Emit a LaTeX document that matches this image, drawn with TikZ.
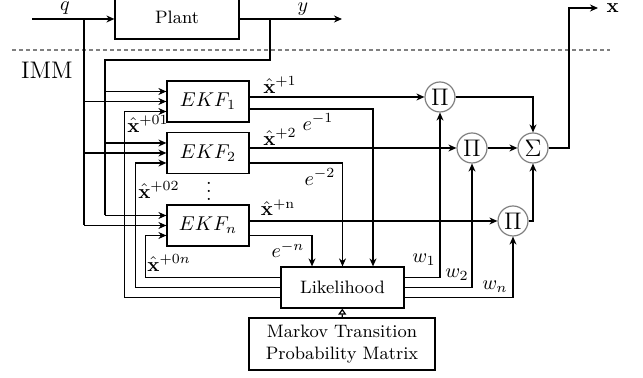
\documentclass[tikz,border=0pt]{standalone}
\usepackage{amsmath,amssymb}
\usepackage{tikz}
\usetikzlibrary{arrows.meta,positioning,calc}

\begin{document}
\begin{tikzpicture}[x=0.5pt,y=-0.5pt,>={Stealth[length=4pt,width=3.5pt]},line width=0.6pt,
  block/.style={draw,minimum width=41pt,minimum height=20.5pt,inner sep=0pt},
  op/.style={draw=gray,circle,minimum size=15pt,inner sep=0pt,font=\large},
  lbl/.style={inner sep=0pt}]
  \useasboundingbox (0,0) rectangle (643,378);

  % plant and its signals
  \node[block,minimum width=62pt,minimum height=22pt,font=\small] (plant) at (177,17) {Plant};
  \coordinate (qin) at (32,19);
  \coordinate (yout) at (342,19);
  \coordinate (qtap) at (84,19);
  \coordinate (ytap) at (270,19);
  \coordinate (ybus) at (105,60);
  \node[lbl] (q) at (65,8) {$q$};
  \node[lbl] (y) at (303,9) {$y$};

  \draw[gray,dash pattern=on 2pt off 1.5pt] (12,50) -- (610,50);
  \node[font=\large] (imm) at (47,70) {IMM};

  % filter bank
  \node[block] (ekf1) at (208,101.5) {$EKF_1$};
  \node[block] (ekf2) at (208,153) {$EKF_2$};
  \node (dots) at (209,185) {$\vdots$};
  \node[block] (ekfn) at (208,225.5) {$EKF_n$};
  \node[block,minimum width=61.5pt,font=\small] (lik) at (342.5,287.5) {Likelihood};
  \node[block,minimum width=93pt,minimum height=26pt,align=center,font=\small] (markov) at (342,344) {Markov Transition\\Probability Matrix};

  % mixing
  \node[op] (p1) at (440,97) {$\Pi$};
  \node[op] (p2) at (472,148) {$\Pi$};
  \node[op] (pn) at (513,221) {$\Pi$};
  \node[op] (sum) at (533,148) {$\Sigma$};
  \coordinate (xcol) at (569,8);
  \coordinate (xout) at (598,8);
  \node[lbl,right=4pt of xout] (x) {$\mathbf{x}$};

  \draw[->] (qin) -- (qin -| plant.west);
  \draw[->] (yout -| plant.east) -- (yout);
  \foreach \k in {1,2,n}{
    \coordinate (ekf\k-a) at ([yshift=5pt]ekf\k.west);
    \coordinate (ekf\k-c) at ([yshift=-5pt]ekf\k.west);
    \draw[->] (ybus |- ekf\k-a) -- (ekf\k-a);
    \draw[->] (qtap |- ekf\k.west) -- (ekf\k.west);
  }
  \draw (ytap) |- (ybus) -- (ybus |- ekfn-a);
  \draw (qtap) -- (qtap |- ekfn.west);

  % feedback of mixed estimates
  \draw[->] ([yshift=5pt]lik.west) -| ([xshift=-10.5pt]ekfn-c) -- (ekfn-c);
  \draw[->] (lik.west) -| ([xshift=-15.5pt]ekf2-c) -- (ekf2-c);
  \draw[->] ([yshift=-5pt]lik.west) -| ([xshift=-21pt]ekf1-c) -- (ekf1-c);
  \node[lbl] (xh01) at (148,124) {$\hat{\mathbf{x}}^{+01}$};
  \node[lbl] (xh02) at (159,190) {$\hat{\mathbf{x}}^{+02}$};
  \node[lbl] (xh0n) at (169,263) {$\hat{\mathbf{x}}^{+0n}$};

  % filter outputs
  \draw[->] (ekf1.east |- p1) -- (p1);
  \draw[->] (ekf2.east |- p2) -- (p2);
  \draw[->] (ekfn.east |- pn) -- (pn);
  \draw[->] ([yshift=-3.75pt]ekf1.east) -| ([xshift=15.25pt]lik.north);
  \draw[->] ([yshift=-5pt]ekf2.east) -| (lik.north);
  \draw[->] ([yshift=-5pt]ekfn.east) -| ([xshift=-15.25pt]lik.north);
  \node[lbl] (xh1) at (280,85) {$\hat{\mathbf{x}}^{+1}$};
  \node[lbl] (xh2) at (280,137) {$\hat{\mathbf{x}}^{+2}$};
  \node[lbl] (xhn) at (278,208) {$\hat{\mathbf{x}}^{+\mathrm{n}}$};
  \node[lbl] (e1) at (318,122) {$e^{-1}$};
  \node[lbl] (e2) at (320,177) {$e^{-2}$};
  \node[lbl] (en) at (288,250) {$e^{-n}$};

  % weights
  \draw[->] ([yshift=5pt]lik.east) -| (p1.south);
  \draw[->] (lik.east) -| (p2.south);
  \draw[->] ([yshift=-5pt]lik.east) -| (pn.south);
  \node[lbl] (w1) at (424,260) {$w_1$};
  \node[lbl] (w2) at (457,275) {$w_2$};
  \node[lbl] (wn) at (495,287) {$w_n$};

  \draw[->] (p1) -| (sum);
  \draw[->] (p2) -- (sum);
  \draw[->] (pn) -| (sum);
  \draw[->] (sum) -| (xcol) -- (xout);
  \draw[-{Triangle[open,length=3pt,width=4pt]}] (markov) -- (lik);
\end{tikzpicture}
\end{document}
